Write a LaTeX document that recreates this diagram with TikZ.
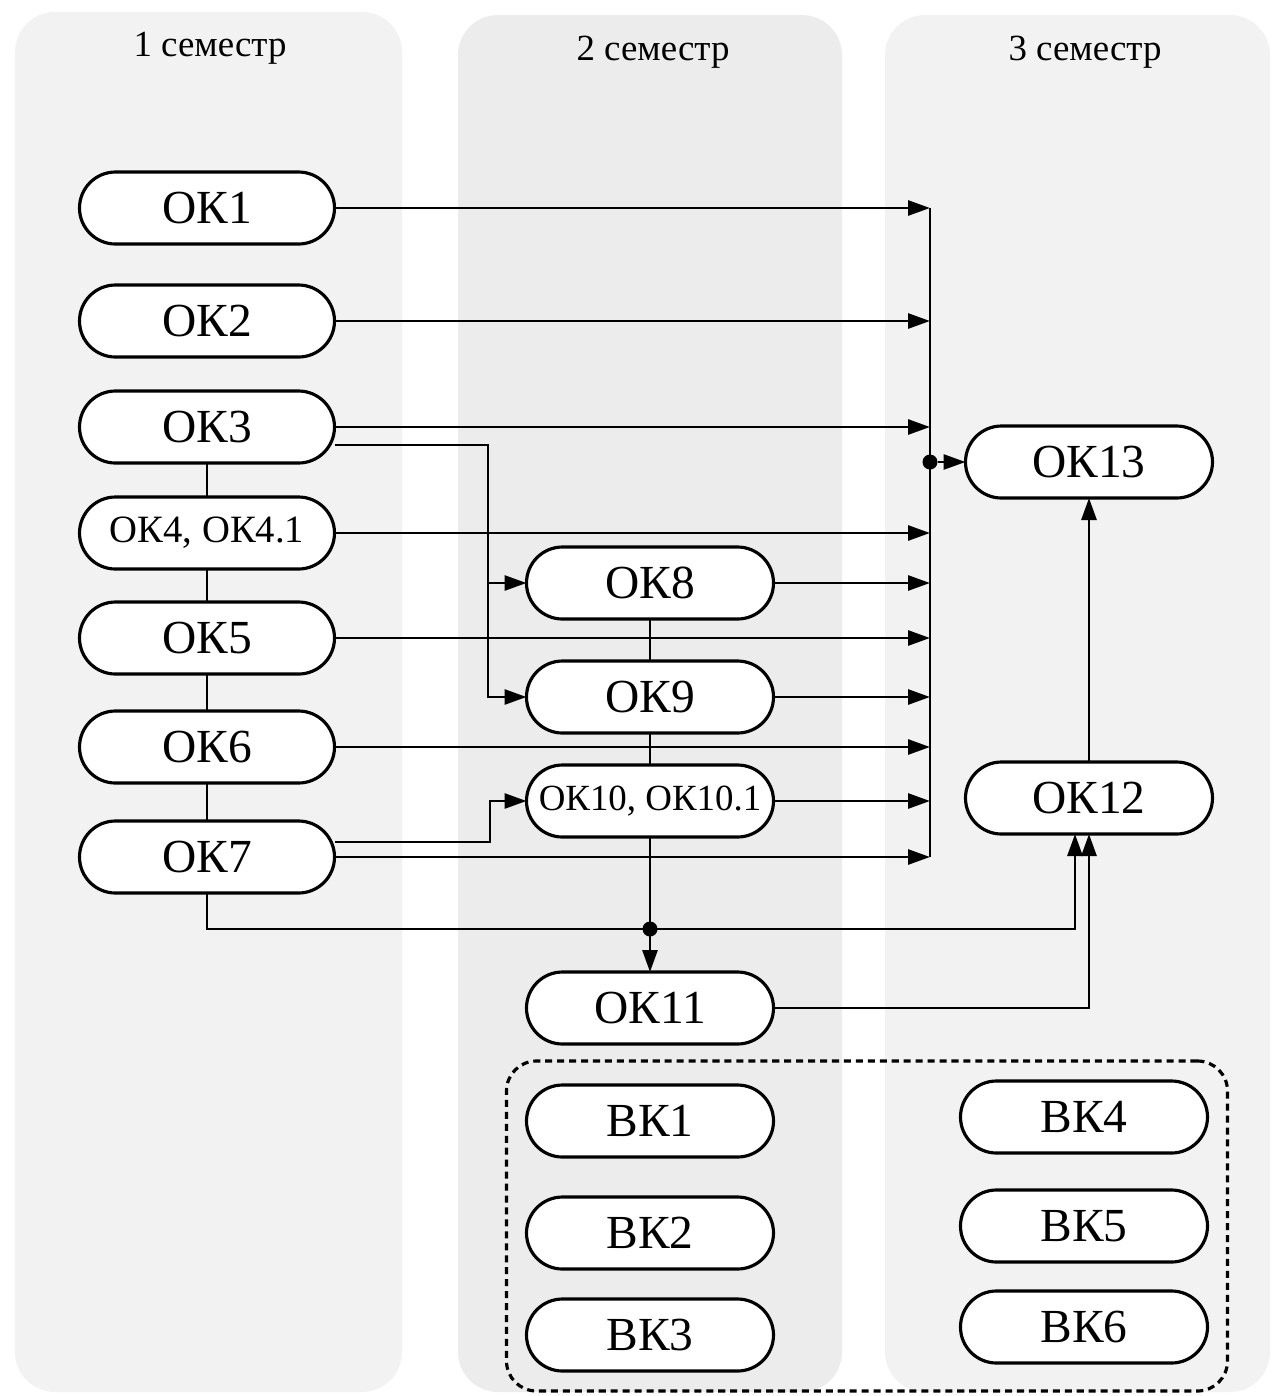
\documentclass[tikz,border=0pt]{standalone}
\usepackage{fontspec}
\setmainfont{Liberation Serif}
\usetikzlibrary{arrows.meta, positioning, fit, backgrounds}
\pgfdeclarelayer{columns}
\pgfsetlayers{columns,background,main}

\begin{document}
\begin{tikzpicture}[
  ok/.style={rectangle, rounded corners=0.36cm, draw, line width=0.9pt,
             fill=white, minimum width=2.47cm, minimum height=0.72cm,
             inner sep=1pt, outer sep=0pt, font=\fontsize{13.5}{14}\selectfont},
  okwide/.style={ok, minimum width=2.55cm},
  oksmall/.style={okwide, font=\fontsize{11}{12}\selectfont},
  ln/.style={line width=0.8pt},
  arr/.style={ln, -{Triangle[length=2.2mm, width=1.5mm]}},
  col/.style={fill=gray!10, rounded corners=0.4cm},
  head/.style={font=\fontsize{10.5}{12}\selectfont},
  grp/.style={draw, line width=0.9pt, dash pattern=on 2pt off 1.4pt,
              rounded corners=0.3cm, inner xsep=0.2cm, inner ysep=0.2cm},
  dot/.style={circle, fill, inner sep=0pt, minimum size=0.15cm},
]
\useasboundingbox (0,0) rectangle (12.78,-13.96);

%% Semester headers
\node[head] (s1) at (2.10,-0.48) {1 семестр};
\node[head] (s2) at (6.53,-0.52) {2 семестр};
\node[head] (s3) at (10.85,-0.52) {3 семестр};

%% Semester 1
\node[okwide] (ok1) at (2.07,-2.08) {ОК1};
\node[okwide, below=0.41cm of ok1] (ok2) {ОК2};
\node[okwide, below=0.34cm of ok2] (ok3) {ОК3};
\node[oksmall, below=0.34cm of ok3] (ok4) {ОК4, ОК4.1};
\node[okwide, below=0.33cm of ok4] (ok5) {ОК5};
\node[okwide, below=0.37cm of ok5] (ok6) {ОК6};
\node[okwide, below=0.38cm of ok6] (ok7) {ОК7};

%% Semester 2
\node[ok] (ok8) at (6.50,-5.83) {ОК8};
\node[ok, below=0.42cm of ok8] (ok9) {ОК9};
\node[ok, font=\fontsize{10.5}{12}\selectfont, below=0.32cm of ok9] (ok10) {ОК10, ОК10.1};
\node[ok, below=1.35cm of ok10] (ok11) {ОК11};
\node[ok, below=0.41cm of ok11] (bk1) {ВК1};
\node[ok, below=0.40cm of bk1] (bk2) {ВК2};
\node[ok, below=0.30cm of bk2] (bk3) {ВК3};

%% Semester 3
\node[ok] (ok13) at (10.89,-4.62) {ОК13};
\node[ok, below=2.64cm of ok13] (ok12) {ОК12};
\node[ok] (bk4) at (10.84,-11.17) {ВК4};
\node[ok, below=0.37cm of bk4] (bk5) {ВК5};
\node[ok, below=0.29cm of bk5] (bk6) {ВК6};

%% Elective group
\node[grp, fit=(bk1)(bk3)(bk4)(bk6)] (elect) {};

%% Helper coordinates
\coordinate (busT) at (9.30,0);
\coordinate (forkA) at (4.88,0);
\coordinate (forkB) at (4.90,0);
\coordinate (low) at (0,-9.29);
\coordinate (in12) at ([xshift=-1.4mm]ok12.south);

\node[dot] (d1) at (busT |- ok13) {};
\node[dot] (d2) at (ok10 |- low) {};

%% Edges
\begin{scope}[on background layer]
  \draw[ln] (busT |- ok1) -- (busT |- ok7);
  \draw[arr] (ok1) -- (ok1 -| busT);
  \draw[arr] (ok2) -- (ok2 -| busT);
  \draw[arr] (ok3) -- (ok3 -| busT);
  \draw[arr] (ok4) -- (ok4 -| busT);
  \draw[arr] (ok5) -- (ok5 -| busT);
  \draw[arr] (ok6) -- (ok6 -| busT);
  \draw[arr] (ok7) -- (ok7 -| busT);
  \draw[arr] (ok8) -- (ok8 -| busT);
  \draw[arr] (ok9) -- (ok9 -| busT);
  \draw[arr] (ok10) -- (ok10 -| busT);
  \draw[arr] (d1) -- (ok13);

  \draw[arr] ([yshift=-1.8mm]ok3.east) -| (forkA |- ok9) -- (ok9);
  \draw[arr] (forkA |- ok8) -- (ok8);
  \draw[arr] ([yshift=1.5mm]ok7.east) -| (forkB |- ok10) -- (ok10);

  \draw[ln] (ok3) -- (ok4) -- (ok5) -- (ok6) -- (ok7);
  \draw[ln] (ok8) -- (ok9) -- (ok10);
  \draw[arr] (ok10) -- (ok11);
  \draw[arr] (ok7.south) |- (in12 |- low) -- (in12);
  \draw[arr] (ok11.east) -| (ok12.south);
  \draw[arr] (ok12) -- (ok13);
\end{scope}

%% Semester columns
\begin{pgfonlayer}{columns}
  \fill[col] (0.15,-0.12) rectangle (4.02,-13.92);
  \fill[col, fill=gray!15] (4.58,-0.15) rectangle (8.42,-13.92);
  \fill[col] (8.85,-0.15) rectangle (12.70,-13.92);
\end{pgfonlayer}
\end{tikzpicture}
\end{document}
